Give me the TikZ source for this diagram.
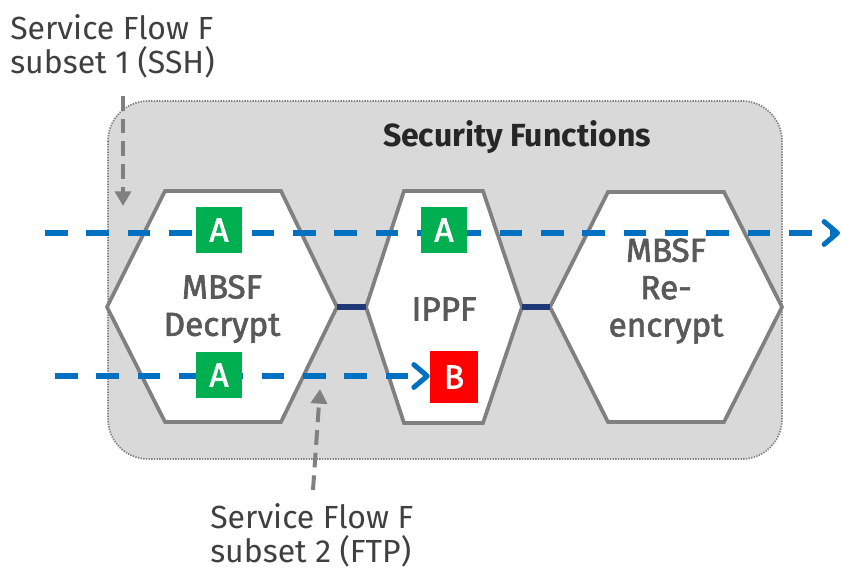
\documentclass[tikz,border=0pt]{standalone}
\usepackage{fontspec}
\setmainfont{Fira Sans}
\newfontfamily\medfont{Fira Sans}[FakeBold=2]
\usetikzlibrary{arrows.meta}
\definecolor{flowblue}{RGB}{0,112,192}
\definecolor{linknavy}{RGB}{31,56,120}
\definecolor{boxgreen}{RGB}{0,176,80}
\definecolor{boxred}{RGB}{255,0,0}
\definecolor{hexgray}{RGB}{128,128,128}
\definecolor{areagray}{RGB}{217,217,217}
\definecolor{txtgray}{RGB}{64,64,64}
\definecolor{hextxt}{RGB}{89,89,89}
\tikzset{
  area/.style={draw=hexgray, fill=areagray, line width=1.3pt, dash pattern=on 1pt off 1pt, rounded corners=30pt},
  hexbox/.style={draw=hexgray, fill=white, line width=2.8pt},
  link/.style={draw=linknavy, line width=4.2pt},
  flow/.style={draw=flowblue, line width=3.8pt, dash pattern=on 17pt off 14pt, -{Straight Barb[length=10pt,width=17pt,round]}},
  pointer/.style={draw=hexgray, line width=3pt, dash pattern=on 11pt off 6pt, -{Triangle[length=11pt,width=12pt]}},
  tag/.style={text=white, minimum width=35pt, minimum height=35pt, inner sep=0pt, font=\medfont\fontsize{25}{28}\selectfont},
  abox/.style={tag, fill=boxgreen},
  bbox/.style={tag, fill=boxred, minimum width=36pt, minimum height=39pt},
  hexlabel/.style={text=hextxt, align=center, inner sep=0pt, font=\medfont\fontsize{25}{28}\selectfont},
  flowlabel/.style={text=txtgray, align=left, inner sep=0pt, anchor=north west, font=\fontsize{24}{26}\selectfont}
}
\begin{document}
\begin{tikzpicture}[x=0.75pt,y=0.75pt,yscale=-1,xscale=1]
\useasboundingbox (0,0) rectangle (841,571);

%Shape: Rounded Rect [security functions]
\draw[area] (108,101) rectangle (782,459);
% Text Node
\node[font=\bfseries\fontsize{24}{28}\selectfont, text={rgb,255:red,38;green,38;blue,38}] (sec) at (517,137) {Security Functions};

%Shape: Hexagon [MBSF Decrypt]
\draw[hexbox] (107,307) coordinate (decW) -- (165,191) -- (281,191) -- (337,307) coordinate (decE) -- (281,422) -- (165,422) -- cycle;
%Shape: Hexagon [IPPF]
\draw[hexbox] (366,307) coordinate (ippW) -- (404,191) -- (483,191) -- (522,307) coordinate (ippE) -- (483,423) -- (404,423) -- cycle;
%Shape: Hexagon [MBSF Re-encrypt]
\draw[hexbox] (550,307) coordinate (encW) -- (608,192) -- (724,192) -- (782,307) coordinate (encE) -- (724,422) -- (608,422) -- cycle;

%Straight Lines [links]
\draw[link] (decE) -- (ippW);
\draw[link] (ippE) -- (encW);

% Text Node
\node[hexlabel] (dec) at (222,309) {MBSF\\Decrypt};
% Text Node
\node[hexlabel] (ipp) at (444,309) {IPPF};
% Text Node
\node[hexlabel] (enc) at (666,291) {MBSF\\Re-\\encrypt};

%Shape: Square [blocked]
\node[bbox] (b1) at (454,377) {B};

%Dashed Lines [flows]
\coordinate (f1s) at (45,233);
\coordinate (f1e) at (840,233);
\coordinate (f2s) at (55,376);
\draw[flow] (f1s) -- (f1e);
\draw[flow] (f2s) -- (b1.west |- f2s);

%Shape: Square [allowed]
\node[abox] (a1) at (219,230) {A};
\node[abox] (a2) at (444,230) {A};
\node[abox] (a3) at (219,375) {A};

% Text Node
\node[flowlabel] (ssh) at (10,14) {Service Flow F\\subset 1 (SSH)};
% Text Node
\node[flowlabel] (ftp) at (210,503) {Service Flow F\\subset 2 (FTP)};

%Dashed Arrows [pointers]
\coordinate (p1s) at (123,96);
\coordinate (p1e) at (123,206);
\draw[pointer] (p1s) -- (p1e);
\coordinate (p2s) at (313,490);
\coordinate (p2e) at (320,389);
\draw[pointer] (p2s) -- (p2e);

\end{tikzpicture}
\end{document}
